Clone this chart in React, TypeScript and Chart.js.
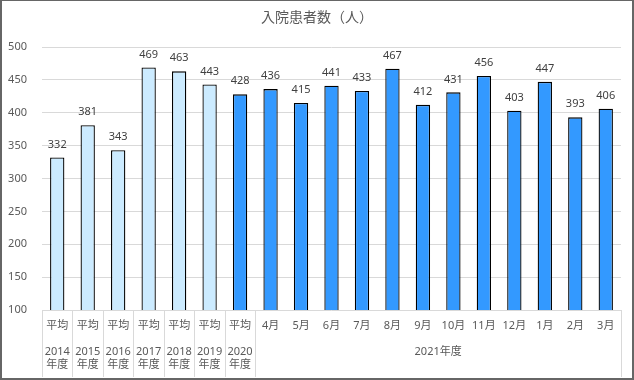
import React, { useEffect, useRef } from "react";
import { Chart, registerables } from "chart.js";

Chart.register(...registerables);

const title = "入院患者数（人）";
const categoryLabels: (string | string[])[] = [
  ["平均", "", "2014", "年度"],
  ["平均", "", "2015", "年度"],
  ["平均", "", "2016", "年度"],
  ["平均", "", "2017", "年度"],
  ["平均", "", "2018", "年度"],
  ["平均", "", "2019", "年度"],
  ["平均", "", "2020", "年度"],
  "4月", "5月", "6月", "7月", "8月", "9月", "10月", "11月", "12月", "1月", "2月", "3月",
];
const groupLabel = "2021年度";
const groupStartIndex = 7;
const lightCount = 6;
const values = [332, 381, 343, 469, 463, 443, 428, 436, 415, 441, 433, 467, 412, 431, 456, 403, 447, 393, 406];
const yMin = 100;
const yMax = 500;
const yStep = 50;

const FONT = "'Noto Sans', 'Noto Sans CJK JP', sans-serif";
const TEXT = "#595959";
const GRID = "#D9D9D9";

export default function App() {
  const ref = useRef<HTMLCanvasElement | null>(null);

  useEffect(() => {
    const canvas = ref.current;
    if (!canvas) return;

    const extras = {
      id: "extras",
      afterDraw(chart: any) {
        const { ctx, chartArea, scales } = chart;
        const x = scales.x;
        ctx.save();
        // title
        ctx.fillStyle = TEXT;
        ctx.font = `14px ${FONT}`;
        ctx.textAlign = "center";
        ctx.textBaseline = "middle";
        ctx.fillText(title, chart.width / 2, 17);

        // data labels
        ctx.font = `11px ${FONT}`;
        ctx.fillStyle = "#404040";
        const meta = chart.getDatasetMeta(0);
        meta.data.forEach((bar: any, i: number) => {
          ctx.fillText(String(values[i]), bar.x, bar.y - 13);
        });

        // separators in category area
        const half = (x.getPixelForValue(1) - x.getPixelForValue(0)) / 2;
        ctx.strokeStyle = GRID;
        ctx.lineWidth = 1;
        const bottom = chart.height - 1;
        const lines: number[] = [];
        for (let i = 0; i <= groupStartIndex; i++) lines.push(x.getPixelForValue(i) - half);
        lines.push(x.getPixelForValue(values.length - 1) + half);
        lines.forEach((px) => {
          const xx = Math.round(px) + 0.5;
          ctx.beginPath();
          ctx.moveTo(xx, chartArea.bottom);
          ctx.lineTo(xx, bottom);
          ctx.stroke();
        });

        // group label
        const gl = x.getPixelForValue(groupStartIndex) - half;
        const gr = x.getPixelForValue(values.length - 1) + half;
        ctx.fillStyle = TEXT;
        ctx.font = `11px ${FONT}`;
        ctx.fillText(groupLabel, (gl + gr) / 2, 351);
        ctx.restore();
      },
    };

    const chart = new Chart(canvas, {
      type: "bar",
      data: {
        labels: categoryLabels as any,
        datasets: [
          {
            data: values,
            backgroundColor: values.map((_, i) => (i < lightCount ? "#CCEBFF" : "#3399FF")),
            borderColor: "#000000",
            borderWidth: 1.3,
            barPercentage: 0.47,
            categoryPercentage: 1,
          },
        ],
      },
      options: {
        responsive: false,
        animation: false,
        layout: { padding: { top: 46, right: 11, left: 0, bottom: 0 } },
        plugins: {
          legend: { display: false },
          title: { display: false },
          tooltip: { enabled: false },
        },
        scales: {
          x: {
            grid: { display: false, drawTicks: false },
            border: { display: false },
            ticks: {
              autoSkip: false,
              maxRotation: 0,
              minRotation: 0,
              padding: 9,
              color: TEXT,
              font: { family: FONT, size: 11, lineHeight: 1.2 },
            },
            afterFit: (s: any) => {
              s.height = 68;
            },
          },
          y: {
            min: yMin,
            max: yMax,
            grid: { color: GRID, drawTicks: false },
            border: { display: false },
            ticks: {
              stepSize: yStep,
              padding: 15,
              color: TEXT,
              font: { family: FONT, size: 11 },
            },
            afterFit: (s: any) => {
              s.width = 40;
            },
          },
        },
      },
      plugins: [extras],
    });
    return () => chart.destroy();
  }, []);

  return (
    <div
      style={{
        position: "fixed",
        left: 0,
        top: 0,
        width: 634,
        height: 380,
        boxSizing: "border-box",
        borderStyle: "solid",
        borderColor: "#666666",
        borderWidth: "1px 2px 2px 2px",
        background: "#ffffff",
      }}
    >
      <canvas ref={ref} width={630} height={377} style={{ display: "block", width: 630, height: 377 }} />
    </div>
  );
}
